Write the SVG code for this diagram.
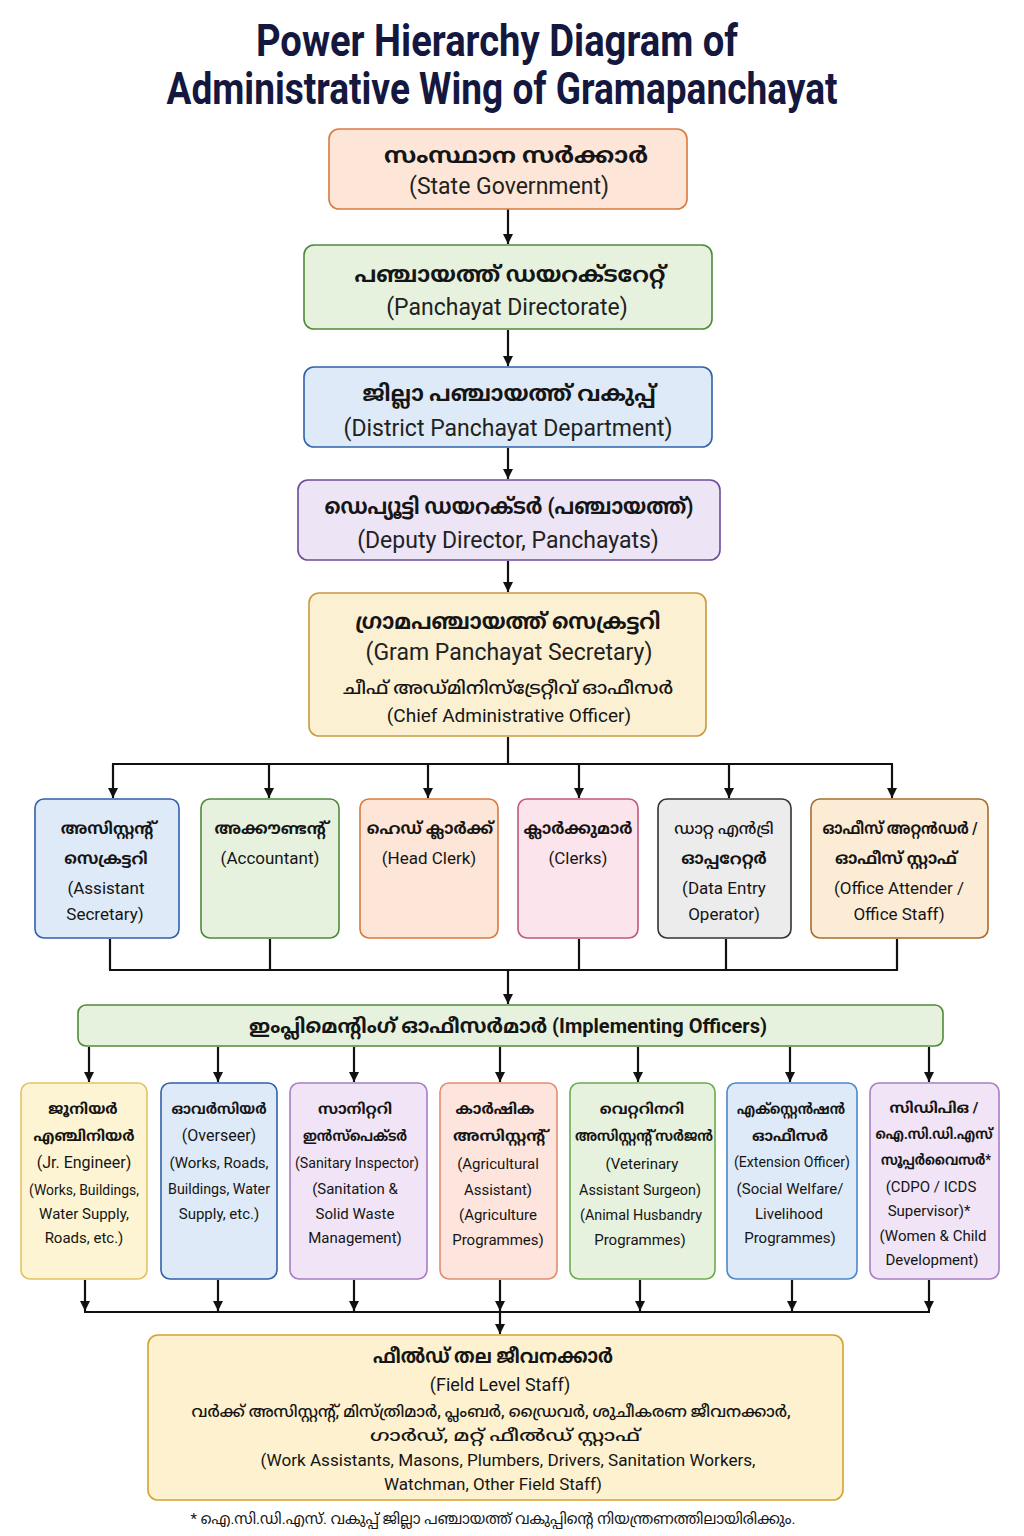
<svg xmlns="http://www.w3.org/2000/svg" width="1024" height="1536" viewBox="0 0 1024 1536">
<defs>
<marker id="ah" viewBox="0 0 10 10" refX="10" refY="5" markerWidth="10" markerHeight="10" markerUnits="userSpaceOnUse" orient="auto">
<path d="M0,0 L10,5 L0,10 Z" fill="#111"/>
</marker>
<style>
text{font-family:Roboto,"Noto Sans","Noto Sans Malayalam",sans-serif;text-anchor:middle;fill:#151515}
.title{font-size:44px;font-weight:700;fill:#14183f}
.ml{font-weight:700}
.big{font-size:22px}
.en{font-size:23px;fill:#222}
.mid{font-size:17px}
.mlm{font-size:16px}
.sm{font-size:16px}
.mls{font-size:15px}
.xs{font-size:15px}
.conn line{stroke:#111;stroke-width:2.2;fill:none}
.arr{marker-end:url(#ah)}
rect{stroke-width:1.6}
</style>
</defs>
<rect width="1024" height="1536" fill="#ffffff"/>

<g id="title">
<text class="title" x="497" y="56" textLength="482" lengthAdjust="spacingAndGlyphs">Power Hierarchy Diagram of</text>
<text class="title" x="502" y="104" textLength="671" lengthAdjust="spacingAndGlyphs">Administrative Wing of Gramapanchayat</text>
</g>

<g class="conn" id="connectors">
<line class="arr" x1="508" y1="209" x2="508" y2="244"/>
<line class="arr" x1="508" y1="330" x2="508" y2="366"/>
<line class="arr" x1="508" y1="448" x2="508" y2="479"/>
<line class="arr" x1="508" y1="561" x2="508" y2="592"/>
<line x1="508" y1="737" x2="508" y2="764"/>
<line x1="112" y1="764" x2="893" y2="764"/>
<line class="arr" x1="113" y1="764" x2="113" y2="798"/>
<line class="arr" x1="269" y1="764" x2="269" y2="798"/>
<line class="arr" x1="428" y1="764" x2="428" y2="798"/>
<line class="arr" x1="579" y1="764" x2="579" y2="798"/>
<line class="arr" x1="729" y1="764" x2="729" y2="798"/>
<line class="arr" x1="892" y1="764" x2="892" y2="798"/>
<line x1="110" y1="939" x2="110" y2="970"/>
<line x1="270" y1="939" x2="270" y2="970"/>
<line x1="579" y1="939" x2="579" y2="970"/>
<line x1="726" y1="939" x2="726" y2="970"/>
<line x1="897" y1="939" x2="897" y2="970"/>
<line x1="109" y1="970" x2="898" y2="970"/>
<line class="arr" x1="508" y1="970" x2="508" y2="1004"/>
<line class="arr" x1="89" y1="1047" x2="89" y2="1082"/>
<line class="arr" x1="218" y1="1047" x2="218" y2="1082"/>
<line class="arr" x1="354" y1="1047" x2="354" y2="1082"/>
<line class="arr" x1="500" y1="1047" x2="500" y2="1082"/>
<line class="arr" x1="638" y1="1047" x2="638" y2="1082"/>
<line class="arr" x1="790" y1="1047" x2="790" y2="1082"/>
<line class="arr" x1="929" y1="1047" x2="929" y2="1082"/>
<line class="arr" x1="85" y1="1280" x2="85" y2="1311"/>
<line class="arr" x1="218" y1="1280" x2="218" y2="1311"/>
<line class="arr" x1="354" y1="1280" x2="354" y2="1311"/>
<line class="arr" x1="500" y1="1280" x2="500" y2="1311"/>
<line class="arr" x1="640" y1="1280" x2="640" y2="1311"/>
<line class="arr" x1="792" y1="1280" x2="792" y2="1311"/>
<line class="arr" x1="929" y1="1280" x2="929" y2="1311"/>
<line x1="84" y1="1312" x2="930" y2="1312"/>
<line class="arr" x1="500" y1="1312" x2="500" y2="1334"/>
</g>

<g id="state-government">
<rect x="329" y="129" width="358" height="80" rx="10" fill="#fde6d8" stroke="#da7a3c"/>
<text class="ml big" x="516" y="163" textLength="264" lengthAdjust="spacingAndGlyphs">സംസ്ഥാന സർക്കാർ</text>
<text class="en" x="509" y="194">(State Government)</text>
</g>

<g id="panchayat-directorate">
<rect x="304" y="245" width="408" height="84" rx="10" fill="#e7f2de" stroke="#4f8a3a"/>
<text class="ml big" x="510" y="282" textLength="311" lengthAdjust="spacingAndGlyphs">പഞ്ചായത്ത് ഡയറക്ടറേറ്റ്</text>
<text class="en" x="507" y="315">(Panchayat Directorate)</text>
</g>

<g id="district-panchayat-department">
<rect x="304" y="367" width="408" height="80" rx="10" fill="#deeaf8" stroke="#2f62aa"/>
<text class="ml big" x="509" y="401" textLength="293" lengthAdjust="spacingAndGlyphs">ജില്ലാ പഞ്ചായത്ത് വകുപ്പ്</text>
<text class="en" x="508" y="436">(District Panchayat Department)</text>
</g>

<g id="deputy-director">
<rect x="298" y="480" width="422" height="80" rx="10" fill="#ede4f5" stroke="#6c4b9b"/>
<text class="ml big" x="509" y="514" textLength="369" lengthAdjust="spacingAndGlyphs">ഡെപ്യൂട്ടി ഡയറക്ടർ (പഞ്ചായത്ത്)</text>
<text class="en" x="508" y="548">(Deputy Director, Panchayats)</text>
</g>

<g id="gram-panchayat-secretary">
<rect x="309" y="593" width="397" height="143" rx="10" fill="#fcf0d2" stroke="#c99a3c"/>
<text class="ml big" x="508" y="629" textLength="305" lengthAdjust="spacingAndGlyphs">ഗ്രാമപഞ്ചായത്ത് സെക്രട്ടറി</text>
<text class="en" x="509" y="660">(Gram Panchayat Secretary)</text>
<text x="508" y="694" style="font-size:18px;font-weight:500" textLength="330" lengthAdjust="spacingAndGlyphs">ചീഫ് അഡ്മിനിസ്ട്രേറ്റീവ് ഓഫീസർ</text>
<text x="509" y="722" style="font-size:19px">(Chief Administrative Officer)</text>
</g>

<g id="assistant-secretary">
<rect x="35" y="799" width="144" height="139" rx="9" fill="#deeaf8" stroke="#2f62aa"/>
<text class="ml mlm" x="107" y="834">അസിസ്റ്റന്റ്</text>
<text class="ml mlm" x="106" y="864">സെക്രട്ടറി</text>
<text class="mid" x="106" y="894">(Assistant</text>
<text class="mid" x="105" y="920">Secretary)</text>
</g>

<g id="accountant">
<rect x="201" y="799" width="138" height="139" rx="9" fill="#e7f2de" stroke="#4f8a3a"/>
<text class="ml mlm" x="270" y="834">അക്കൗണ്ടന്റ്</text>
<text class="mid" x="270" y="864">(Accountant)</text>
</g>

<g id="head-clerk">
<rect x="360" y="799" width="138" height="139" rx="9" fill="#fde6d8" stroke="#da7a3c"/>
<text class="ml mlm" x="430" y="834">ഹെഡ് ക്ലാർക്ക്</text>
<text class="mid" x="429" y="864">(Head Clerk)</text>
</g>

<g id="clerks">
<rect x="518" y="799" width="120" height="139" rx="9" fill="#fbe4eb" stroke="#c0587c"/>
<text class="ml mlm" x="578" y="834">ക്ലാർക്കുമാർ</text>
<text class="mid" x="578" y="864">(Clerks)</text>
</g>

<g id="data-entry-operator">
<rect x="658" y="799" width="133" height="139" rx="9" fill="#ececec" stroke="#333333"/>
<text x="724" y="834" style="font-size:16px;font-weight:500">ഡാറ്റ എൻട്രി</text>
<text class="ml mlm" x="724" y="864">ഓപ്പറേറ്റർ</text>
<text class="mid" x="724" y="894">(Data Entry</text>
<text class="mid" x="724" y="920">Operator)</text>
</g>

<g id="office-attender">
<rect x="811" y="799" width="177" height="139" rx="9" fill="#fdecd5" stroke="#a86c2c"/>
<text class="ml mlm" x="900" y="834" textLength="155" lengthAdjust="spacingAndGlyphs">ഓഫീസ് അറ്റൻഡർ /</text>
<text class="ml mlm" x="896" y="864" textLength="122" lengthAdjust="spacingAndGlyphs">ഓഫീസ് സ്റ്റാഫ്</text>
<text class="mid" x="899" y="894">(Office Attender /</text>
<text class="mid" x="899" y="920">Office Staff)</text>
</g>

<g id="implementing-officers">
<rect x="78" y="1005" width="865" height="41" rx="8" fill="#e7f2de" stroke="#4f8a3a"/>
<text class="ml" x="508" y="1033" style="font-size:20px" textLength="518" lengthAdjust="spacingAndGlyphs">ഇംപ്ലിമെന്റിംഗ് ഓഫീസർമാർ (Implementing Officers)</text>
</g>

<g id="junior-engineer">
<rect x="21" y="1083" width="126" height="196" rx="9" fill="#fdf4d3" stroke="#e2c262"/>
<text class="ml mls" x="83" y="1114">ജൂനിയർ</text>
<text class="ml mls" x="84" y="1141">എഞ്ചിനിയർ</text>
<text class="sm" x="84" y="1168">(Jr. Engineer)</text>
<text class="xs" x="84" y="1195" textLength="110" lengthAdjust="spacingAndGlyphs">(Works, Buildings,</text>
<text class="xs" x="84" y="1219">Water Supply,</text>
<text class="xs" x="84" y="1243">Roads, etc.)</text>
</g>

<g id="overseer">
<rect x="161" y="1083" width="116" height="196" rx="9" fill="#deeaf8" stroke="#2f62aa"/>
<text class="ml mls" x="219" y="1114" textLength="95" lengthAdjust="spacingAndGlyphs">ഓവർസിയർ</text>
<text class="sm" x="219" y="1141">(Overseer)</text>
<text class="xs" x="219" y="1168">(Works, Roads,</text>
<text class="xs" x="219" y="1194" textLength="102" lengthAdjust="spacingAndGlyphs">Buildings, Water</text>
<text class="xs" x="219" y="1219">Supply, etc.)</text>
</g>

<g id="sanitary-inspector">
<rect x="290" y="1083" width="137" height="196" rx="9" fill="#f0e4f6" stroke="#a87dc2"/>
<text class="ml mls" x="355" y="1114">സാനിറ്ററി</text>
<text class="ml mls" x="355" y="1141" textLength="104" lengthAdjust="spacingAndGlyphs">ഇൻസ്പെക്ടർ</text>
<text class="xs" x="357" y="1168" textLength="124" lengthAdjust="spacingAndGlyphs">(Sanitary Inspector)</text>
<text class="xs" x="355" y="1194">(Sanitation &amp;</text>
<text class="xs" x="355" y="1219">Solid Waste</text>
<text class="xs" x="355" y="1243">Management)</text>
</g>

<g id="agricultural-assistant">
<rect x="440" y="1083" width="117" height="196" rx="9" fill="#fde4dd" stroke="#e28c72"/>
<text class="ml mls" x="495" y="1114">കാർഷിക</text>
<text class="ml mls" x="499" y="1141" textLength="92" lengthAdjust="spacingAndGlyphs">അസിസ്റ്റന്റ്</text>
<text class="xs" x="498" y="1169">(Agricultural</text>
<text class="xs" x="498" y="1195">Assistant)</text>
<text class="xs" x="498" y="1220">(Agriculture</text>
<text class="xs" x="498" y="1245">Programmes)</text>
</g>

<g id="veterinary-assistant-surgeon">
<rect x="570" y="1083" width="145" height="196" rx="9" fill="#e7f2de" stroke="#6caa52"/>
<text class="ml mls" x="642" y="1114">വെറ്ററിനറി</text>
<text class="ml mls" x="644" y="1141" textLength="138" lengthAdjust="spacingAndGlyphs">അസിസ്റ്റന്റ് സർജൻ</text>
<text class="xs" x="642" y="1169">(Veterinary</text>
<text class="xs" x="640" y="1195" textLength="122" lengthAdjust="spacingAndGlyphs">Assistant Surgeon)</text>
<text class="xs" x="641" y="1220" textLength="122" lengthAdjust="spacingAndGlyphs">(Animal Husbandry</text>
<text class="xs" x="640" y="1245">Programmes)</text>
</g>

<g id="extension-officer">
<rect x="727" y="1083" width="130" height="196" rx="9" fill="#deeaf8" stroke="#4c88c9"/>
<text class="ml mls" x="791" y="1114" textLength="108" lengthAdjust="spacingAndGlyphs">എക്സ്റ്റെൻഷൻ</text>
<text class="ml mls" x="790" y="1141">ഓഫീസർ</text>
<text class="xs" x="792" y="1167" textLength="116" lengthAdjust="spacingAndGlyphs">(Extension Officer)</text>
<text class="xs" x="790" y="1194">(Social Welfare/</text>
<text class="xs" x="789" y="1219">Livelihood</text>
<text class="xs" x="790" y="1243">Programmes)</text>
</g>

<g id="cdpo-icds-supervisor">
<rect x="870" y="1083" width="129" height="196" rx="9" fill="#f0e4f6" stroke="#a87dc2"/>
<text class="ml mls" x="934" y="1113">സിഡിപിഒ /</text>
<text class="ml mls" x="934" y="1139" textLength="117" lengthAdjust="spacingAndGlyphs">ഐ.സി.ഡി.എസ്</text>
<text class="ml mls" x="936" y="1165" textLength="110" lengthAdjust="spacingAndGlyphs">സൂപ്പർവൈസർ*</text>
<text class="xs" x="931" y="1192">(CDPO / ICDS</text>
<text class="xs" x="929" y="1216">Supervisor)*</text>
<text class="xs" x="933" y="1241">(Women &amp; Child</text>
<text class="xs" x="932" y="1265">Development)</text>
</g>

<g id="field-level-staff">
<rect x="148" y="1335" width="695" height="165" rx="10" fill="#fdf1cf" stroke="#d4a32c"/>
<text class="ml" x="493" y="1363" style="font-size:20px" textLength="240" lengthAdjust="spacingAndGlyphs">ഫീൽഡ് തല ജീവനക്കാർ</text>
<text class="mid" x="500" y="1391" style="font-size:18px">(Field Level Staff)</text>
<text x="491" y="1417" style="font-size:16px;font-weight:500" textLength="599" lengthAdjust="spacingAndGlyphs">വർക്ക് അസിസ്റ്റന്റ്, മിസ്ത്രിമാർ, പ്ലംബർ, ഡ്രൈവർ, ശുചീകരണ ജീവനക്കാർ,</text>
<text x="505" y="1441" style="font-size:16px;font-weight:500" textLength="270" lengthAdjust="spacingAndGlyphs">ഗാർഡ്, മറ്റ് ഫീൽഡ് സ്റ്റാഫ്</text>
<text class="mid" x="508" y="1466" textLength="495" lengthAdjust="spacingAndGlyphs">(Work Assistants, Masons, Plumbers, Drivers, Sanitation Workers,</text>
<text class="mid" x="493" y="1490">Watchman, Other Field Staff)</text>
</g>

<g id="footnote">
<text x="493" y="1524" style="font-size:15px" textLength="605" lengthAdjust="spacingAndGlyphs">* ഐ.സി.ഡി.എസ്. വകുപ്പ് ജില്ലാ പഞ്ചായത്ത് വകുപ്പിന്റെ നിയന്ത്രണത്തിലായിരിക്കും.</text>
</g>
</svg>
